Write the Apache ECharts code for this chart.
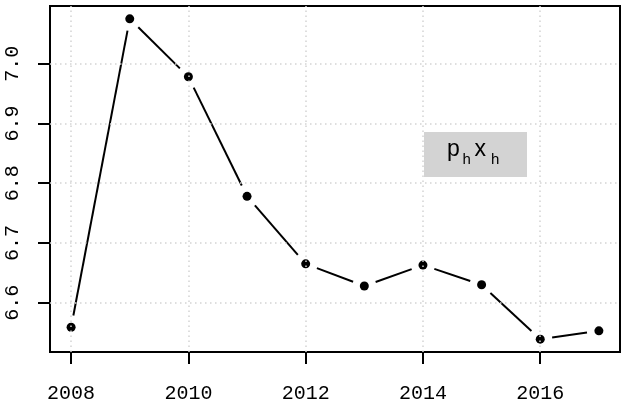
<!DOCTYPE html>
<html>
<head>
<meta charset="utf-8">
<style>
  html, body { margin: 0; padding: 0; background: #fff; }
  #chart { width: 622px; height: 410px; }
</style>
<script src="https://cdn.jsdelivr.net/npm/echarts@6/dist/echarts.min.js"></script>
</head>
<body>
<div id="chart"></div>
<script>
// Yearly values of p_h x_h
const years = [2008, 2009, 2010, 2011, 2012, 2013, 2014, 2015, 2016, 2017];
const values = [6.559, 7.075, 6.978, 6.778, 6.665, 6.628, 6.663, 6.630, 6.539, 6.553];

// Tick positions on each axis
const xTicks = [2008, 2010, 2012, 2014, 2016];
const yTicks = [6.6, 6.7, 6.8, 6.9, 7.0];

// Axis ranges padded by 4% on each side, as in base R plots
function padRange(arr) {
  const lo = Math.min(...arr), hi = Math.max(...arr);
  const d = (hi - lo) * 0.04;
  return [lo - d, hi + d];
}
const xRange = padRange(years);
const yRange = padRange(values);

const points = years.map((y, i) => [y, values[i]]);
const GAP = 12; // space left between a segment end and a point

const monoFont = 'Liberation Mono';
const bigFont = '23px "Liberation Sans", Arial, sans-serif';
const subFont = '15px "Liberation Sans", Arial, sans-serif';
const chart = echarts.init(document.getElementById('chart'), null, { renderer: 'canvas' });

chart.setOption({
  animation: false,
  backgroundColor: '#ffffff',
  grid: {
    left: 50, top: 6, width: 570, height: 346,
    show: true, borderColor: '#000', borderWidth: 2, backgroundColor: 'transparent'
  },
  xAxis: {
    type: 'value', min: xRange[0], max: xRange[1],
    axisLine: { show: false },
    splitLine: { show: false },
    axisTick: { show: true, customValues: xTicks, length: 12, lineStyle: { color: '#000', width: 2 } },
    axisLabel: {
      customValues: xTicks, margin: 32, color: '#000',
      fontFamily: monoFont, fontSize: 20,
      formatter: v => String(Math.round(v))
    }
  },
  yAxis: {
    type: 'value', min: yRange[0], max: yRange[1],
    axisLine: { show: false },
    splitLine: { show: false },
    axisTick: { show: true, customValues: yTicks, length: 12, lineStyle: { color: '#000', width: 2 } },
    axisLabel: {
      customValues: yTicks, margin: 27, rotate: 90, color: '#000',
      fontFamily: monoFont, fontSize: 20,
      formatter: v => v.toFixed(1)
    }
  },
  series: [
    {
      // dotted reference grid
      type: 'line', data: [], silent: true,
      markLine: {
        silent: true, symbol: 'none', label: { show: false },
        lineStyle: { color: '#d3d3d3', type: [1.5, 3.5], width: 1.5 },
        data: xTicks.map(v => ({ xAxis: v })).concat(yTicks.map(v => ({ yAxis: v })))
      }
    },
    {
      // connecting segments, stopped short of each point
      type: 'custom', silent: true,
      data: points,
      renderItem: function (params, api) {
        const i = params.dataIndex;
        if (i >= points.length - 1) return null;
        const a = api.coord(points[i]);
        const b = api.coord(points[i + 1]);
        const dx = b[0] - a[0], dy = b[1] - a[1];
        const len = Math.sqrt(dx * dx + dy * dy);
        if (len <= 2 * GAP) return null;
        const ux = dx / len, uy = dy / len;
        return {
          type: 'line',
          shape: { x1: a[0] + ux * GAP, y1: a[1] + uy * GAP, x2: b[0] - ux * GAP, y2: b[1] - uy * GAP },
          style: { stroke: '#000', lineWidth: 2 }
        };
      }
    },
    {
      type: 'scatter', data: points, symbol: 'circle', symbolSize: 9,
      itemStyle: { color: '#000', opacity: 1 }, silent: true
    }
  ],
  graphic: [
    {
      type: 'group', left: 424, top: 132,
      children: [
        { type: 'rect', shape: { x: 0, y: 0, width: 103, height: 45 }, style: { fill: '#d3d3d3' } },
        { type: 'text', x: 23, y: 18, style: { text: 'p', font: bigFont, fill: '#000', verticalAlign: 'middle' } },
        { type: 'text', x: 38.5, y: 28, style: { text: 'h', font: subFont, fill: '#000', verticalAlign: 'middle' } },
        { type: 'text', x: 50.5, y: 18, style: { text: 'x', font: bigFont, fill: '#000', verticalAlign: 'middle' } },
        { type: 'text', x: 67, y: 28, style: { text: 'h', font: subFont, fill: '#000', verticalAlign: 'middle' } }
      ]
    }
  ]
});
</script>
</body>
</html>
